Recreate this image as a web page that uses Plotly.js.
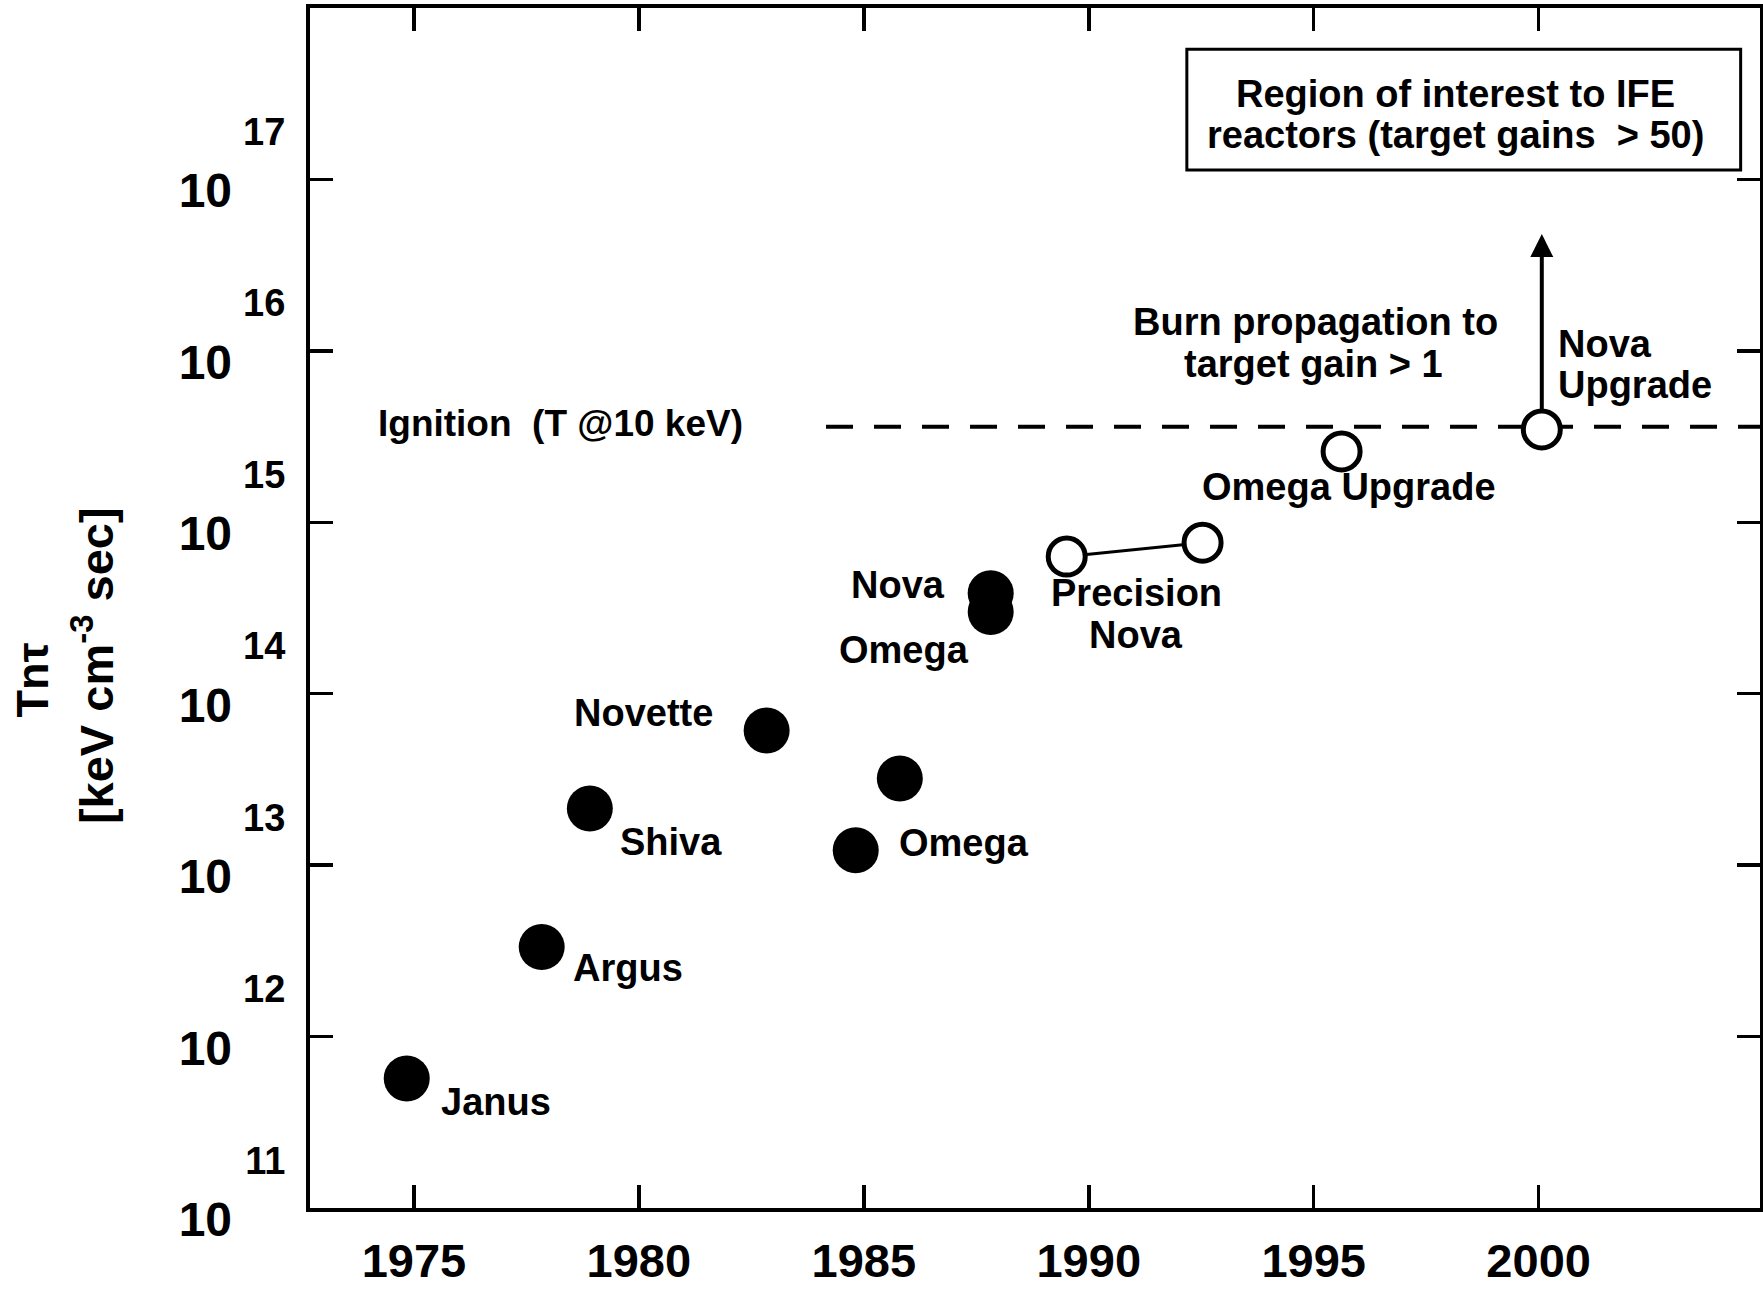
<!DOCTYPE html>
<html><head><meta charset="utf-8">
<script src="https://cdn.plot.ly/plotly-3.0.1.min.js"></script>
<style>html,body{margin:0;padding:0;background:#fff}#chart{width:1763px;height:1291px}</style>
</head><body><div id="chart"></div>
<script>
// ---- data ----
const filledNames = ['Janus', 'Argus', 'Shiva', 'Novette', 'Omega', 'Omega', 'Nova', 'Omega'];
const filledYears = [1974.84, 1977.84, 1978.91, 1982.84, 1984.82, 1985.80, 1987.82, 1987.82];
const filledTnTau = [5.7e11, 3.33e12, 2.14e13, 6.1e13, 1.22e13, 3.2e13, 3.86e14, 3.0e14];

const precisionNovaYears = [1989.51, 1992.53];
const precisionNovaTnTau = [6.31e14, 7.6e14];

const upgradeNames = ['Omega Upgrade', 'Nova Upgrade'];
const upgradeYears = [1995.62, 2000.07];
const upgradeTnTau = [2.59e15, 3.48e15];

const ignitionYears = [1984.16, 2006];
const ignitionTnTau = [3.61e15, 3.61e15];
const novaUpgradeGoal = 4.8e16;

const xTickVals = [1975, 1980, 1985, 1990, 1995, 2000];
const xTickText = ['1975', '1980', '1985', '1990', '1995', '2000'];
const yTickVals = [1e11, 1e12, 1e13, 1e14, 1e15, 1e16, 1e17];
const yTickExps = ['11', '12', '13', '14', '15', '16', '17'];

// ---- drawing ----
const FONT = 'Liberation Sans, Arial, Helvetica, sans-serif';
const NB = '\u00a0';

const traces = [
  {
    type: 'scatter', mode: 'lines', x: ignitionYears, y: ignitionTnTau,
    line: {color: 'black', width: 4, dash: '27px,21px'}, hoverinfo: 'skip'
  },
  {
    // arrow from Nova Upgrade towards the IFE region
    type: 'scatter', mode: 'lines+markers',
    x: [upgradeYears[1], upgradeYears[1]], y: [upgradeTnTau[1], novaUpgradeGoal],
    line: {color: 'black', width: 4},
    marker: {symbol: 'arrow-up', size: [0, 23], color: 'black', opacity: 1, line: {width: 0}}
  },
  {
    type: 'scatter', mode: 'markers', x: filledYears, y: filledTnTau, text: filledNames,
    marker: {symbol: 'circle', size: 46, color: 'black', line: {width: 0}}
  },
  {
    type: 'scatter', mode: 'lines+markers', x: precisionNovaYears, y: precisionNovaTnTau,
    line: {color: 'black', width: 3},
    marker: {symbol: 'circle', size: 37, color: 'white', line: {color: 'black', width: 5}}
  },
  {
    type: 'scatter', mode: 'markers', x: upgradeYears, y: upgradeTnTau, text: upgradeNames,
    marker: {symbol: 'circle', size: 37, color: 'white', line: {color: 'black', width: 5}}
  }
];

function lab(text, x, ylog, xanchor, size) {
  return {
    text: text, x: x, y: ylog, xref: 'x', yref: 'y', xanchor: xanchor || 'left', yanchor: 'middle',
    showarrow: false, font: {family: FONT, size: size || 38, color: 'black', weight: 'bold'}
  };
}

const annotations = [
  lab('Janus', 1975.55, 11.616),
  lab('Argus', 1978.5, 12.40),
  lab('Shiva', 1979.54, 13.134),
  lab('Novette', 1978.51, 13.886),
  lab('Omega', 1985.74, 13.128),
  lab('Nova', 1984.66, 14.634),
  lab('Omega', 1984.40, 14.256),
  lab('Precision', 1991.06, 14.585, 'center'),
  lab('Nova', 1991.04, 14.345, 'center'),
  lab('Omega Upgrade', 1995.78, 15.203, 'center'),
  lab('Burn propagation to', 1995.04, 16.169, 'center'),
  lab('target gain > 1', 1995.0, 15.924, 'center'),
  lab('Nova', 2000.38, 16.04),
  lab('Upgrade', 2000.38, 15.80),
  lab('Ignition' + NB + NB + '(T @10 keV)', 1974.15, 15.576, 'left', 37),
  lab('Region of interest to IFE', 1998.15, 17.50, 'center'),
  lab('reactors (target gains' + NB + NB + '> 50)', 1998.16, 17.262, 'center'),
  {
    text: 'Tn\u03c4', xref: 'paper', yref: 'paper', x: -0.192, y: 0.44, xanchor: 'center', yanchor: 'middle',
    textangle: -90, showarrow: false, font: {family: FONT, size: 45, color: 'black', weight: 'bold'}
  },
  {
    text: '[keV cm<sup>-3</sup> sec]', xref: 'paper', yref: 'paper', x: -0.15, y: 0.452,
    xanchor: 'center', yanchor: 'middle', textangle: -90, showarrow: false,
    font: {family: FONT, size: 47, color: 'black', weight: 'bold'}
  }
];

const shapes = [
  {
    type: 'rect', xref: 'x', yref: 'y', x0: 1992.18, x1: 2004.49, y0: Math.pow(10, 17.055), y1: Math.pow(10, 17.76),
    line: {color: 'black', width: 3}, fillcolor: 'white', layer: 'below'
  }
];

const layout = {
  width: 1763, height: 1291,
  margin: {l: 310, r: 3, t: 8, b: 83, pad: 0},
  paper_bgcolor: 'white', plot_bgcolor: 'white',
  showlegend: false,
  font: {family: FONT, color: 'black', size: 38, weight: 'bold'},
  xaxis: {
    range: [1972.69, 2004.92], tickmode: 'array', tickvals: xTickVals, ticktext: xTickText,
    ticks: 'inside', ticklen: 23, tickwidth: 3.5, tickcolor: 'black',
    showline: true, linewidth: 4, linecolor: 'black', mirror: 'ticks',
    showgrid: false, zeroline: false, automargin: false,
    tickfont: {family: FONT, size: 47, color: 'black', weight: 'bold'},
    ticklabelstandoff: 9
  },
  yaxis: {
    type: 'log', range: [11, 18], tickmode: 'array', tickvals: yTickVals,
    ticktext: yTickExps.map(e => '<span style="font-size:38px">' + e + '</span><br>10' + NB + NB + NB + NB),
    ticks: 'inside', ticklen: 23, tickwidth: 3.5, tickcolor: 'black',
    showline: true, linewidth: 4, linecolor: 'black', mirror: 'ticks',
    showgrid: false, zeroline: false, automargin: false,
    tickfont: {family: FONT, size: 48, color: 'black', weight: 'bold'},
    ticklabelshift: -20, ticklabelstandoff: 11
  },
  shapes: shapes,
  annotations: annotations
};

Plotly.newPlot('chart', traces, layout, {displayModeBar: false, staticPlot: true});
</script>
</body></html>
